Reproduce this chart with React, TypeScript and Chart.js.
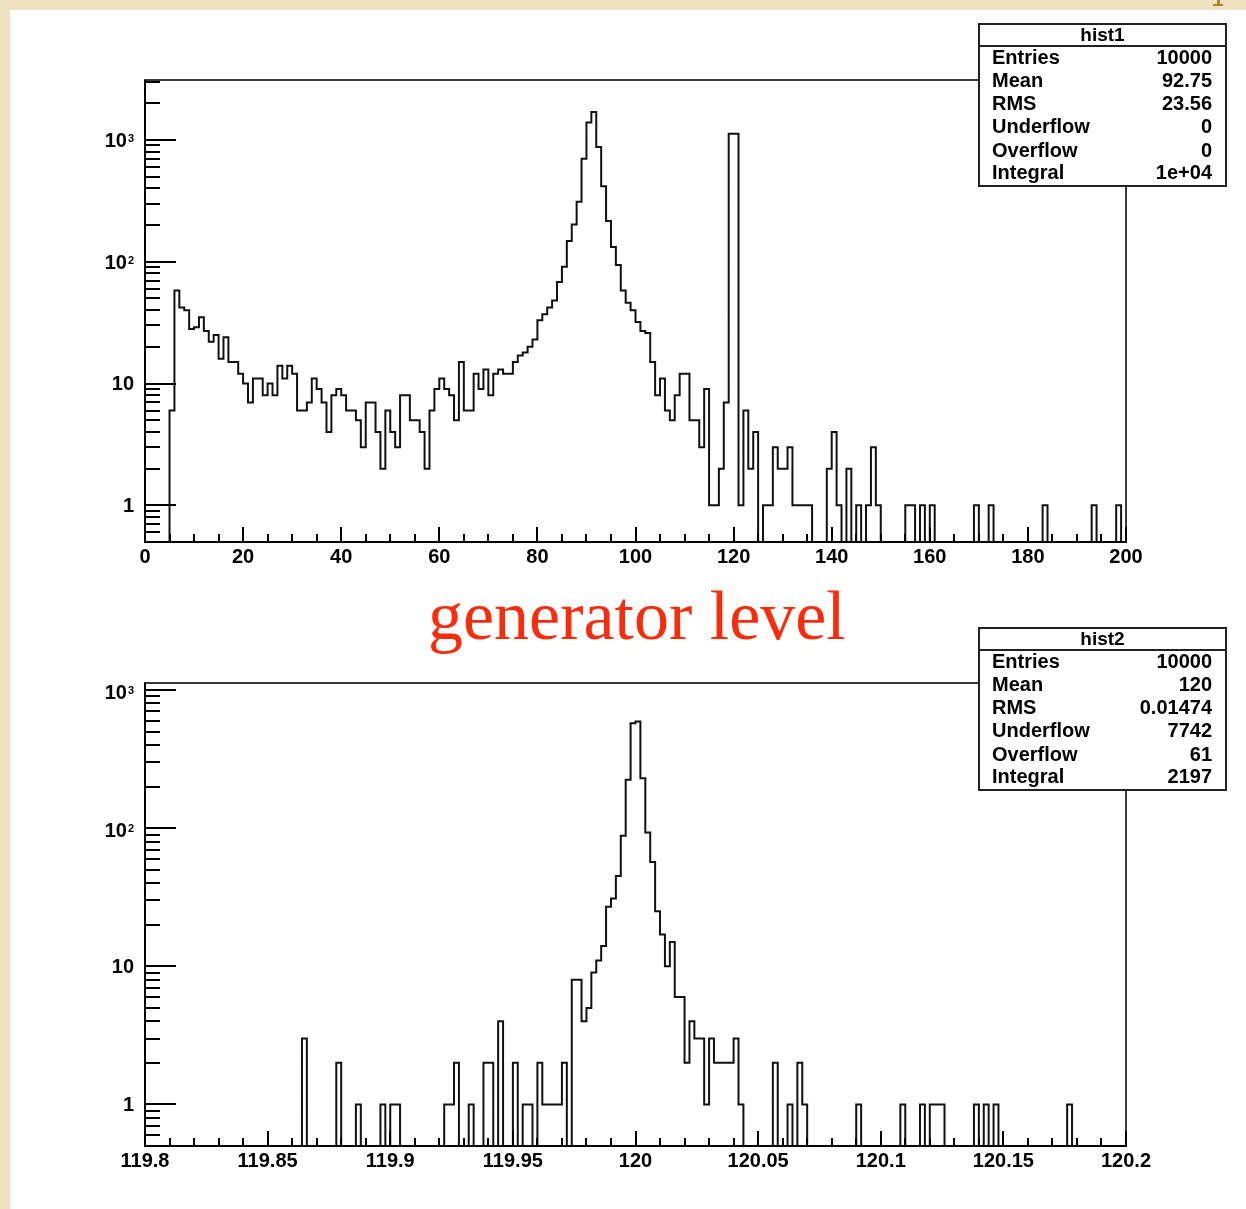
import React, { useEffect, useRef } from "react";
import { Chart, registerables } from "chart.js";

Chart.register(...registerables);

// ---------------- data ----------------
// hist1: 200 bins, 0 .. 200
const hist1Range = [0, 200];
const hist1Counts: number[] = [
  0, 0, 0, 0, 0, 6, 58, 42, 40, 28,
  29, 35, 27, 22, 25, 16, 24, 15, 15, 12,
  10, 7, 11, 11, 8, 10, 8, 14, 11, 14,
  12, 6, 6, 7, 11, 9, 7, 4, 8, 9,
  8, 6, 6, 5, 3, 7, 7, 4, 2, 6,
  4, 3, 8, 8, 5, 5, 4, 2, 6, 9,
  11, 9, 8, 5, 15, 6, 6, 12, 9, 13,
  8, 12, 13, 12, 12, 15, 17, 18, 20, 23,
  33, 37, 42, 48, 68, 91, 148, 202, 311, 700,
  1390, 1690, 873, 416, 216, 132, 94, 58, 46, 40,
  32, 27, 26, 15, 8, 11, 6, 5, 8, 12,
  12, 5, 5, 3, 9, 1, 1, 2, 7, 1120,
  1120, 1, 6, 2, 4, 0, 1, 1, 3, 2,
  2, 3, 1, 1, 1, 1, 0, 0, 0, 2,
  4, 1, 0, 2, 0, 1, 0, 1, 3, 1,
  0, 0, 0, 0, 0, 1, 1, 0, 1, 0,
  1, 0, 0, 0, 0, 0, 0, 0, 0, 1,
  0, 0, 1, 0, 0, 0, 0, 0, 0, 0,
  0, 0, 0, 1, 0, 0, 0, 0, 0, 0,
  0, 0, 0, 1, 0, 0, 0, 0, 1, 0,
];
const hist1XTickLabels = ["0", "20", "40", "60", "80", "100", "120", "140", "160", "180", "200"];
const hist1StatValues = ["10000", "92.75", "23.56", "0", "0", "1e+04"];

// hist2: 200 bins, 119.8 .. 120.2
const hist2Range = [119.8, 120.2];
const hist2Counts: number[] = [
  0, 0, 0, 0, 0, 0, 0, 0, 0, 0,
  0, 0, 0, 0, 0, 0, 0, 0, 0, 0,
  0, 0, 0, 0, 0, 0, 0, 0, 0, 0,
  0, 0, 3, 0, 0, 0, 0, 0, 0, 2,
  0, 0, 0, 1, 0, 0, 0, 0, 1, 0,
  1, 1, 0, 0, 0, 0, 0, 0, 0, 0,
  0, 1, 1, 2, 0, 0, 1, 0, 0, 2,
  2, 0, 4, 0, 0, 2, 0, 1, 1, 0,
  2, 1, 1, 1, 1, 2, 0, 8, 8, 4,
  5, 9, 11, 14, 27, 31, 45, 88, 224, 576,
  593, 230, 93, 57, 25, 17, 10, 15, 6, 6,
  2, 4, 3, 3, 1, 3, 2, 2, 2, 2,
  3, 1, 0, 0, 0, 0, 0, 0, 2, 0,
  0, 1, 0, 2, 1, 0, 0, 0, 0, 0,
  0, 0, 0, 0, 0, 1, 0, 0, 0, 0,
  0, 0, 0, 0, 1, 0, 0, 0, 1, 0,
  1, 1, 1, 0, 0, 0, 0, 0, 0, 1,
  0, 1, 0, 1, 0, 0, 0, 0, 0, 0,
  0, 0, 0, 0, 0, 0, 0, 0, 1, 0,
  0, 0, 0, 0, 0, 0, 0, 0, 0, 0,
];
const hist2XTickLabels = ["119.8", "119.85", "119.9", "119.95", "120", "120.05", "120.1", "120.15", "120.2"];
const hist2StatValues = ["10000", "120", "0.01474", "7742", "61", "2197"];

const statLabels = ["Entries", "Mean", "RMS", "Underflow", "Overflow", "Integral"];
const yTickValues = [1, 10, 100, 1000];
const yTickBases = ["1", "10", "10", "10"];
const yTickExps = ["", "", "2", "3"];

// ---------------- layout / style ----------------
const PAGE_W = 1246;
const PAGE_H = 1209;
const BEIGE = "#eee2c1";
const FONT = '"Liberation Sans", Arial, Helvetica, sans-serif';
const EMPTY_BIN = 0.01; // below the log-axis minimum: drawn down to the frame bottom

type PanelCfg = {
  name: string;
  counts: number[];
  range: number[];
  yMin: number;
  yMax: number;
  xLabels: string[];
  minorStep: number;
  majorEvery: number;
  stats: string[];
  canvasTop: number;
  canvasHeight: number;
  plotLeft: number;
  plotRight: number;
  plotTop: number;
  plotBottom: number;
  boxLeft: number;
  boxRight: number;
  boxTop: number;
  boxSep: number;
  boxBottom: number;
  rowY: number[];
  expShift: number;
};

const panel1: PanelCfg = {
  name: "hist1",
  counts: hist1Counts,
  range: hist1Range,
  yMin: 0.5,
  yMax: 3100,
  xLabels: hist1XTickLabels,
  minorStep: 5,
  majorEvery: 4,
  stats: hist1StatValues,
  canvasTop: 0,
  canvasHeight: 600,
  plotLeft: 145,
  plotRight: 1126,
  plotTop: 80,
  plotBottom: 542,
  boxLeft: 979,
  boxRight: 1226,
  boxTop: 24,
  boxSep: 46,
  boxBottom: 186,
  rowY: [58, 81, 104, 127, 151, 173],
  expShift: 2,
};

const panel2: PanelCfg = {
  name: "hist2",
  counts: hist2Counts,
  range: hist2Range,
  yMin: 0.5,
  yMax: 1125,
  xLabels: hist2XTickLabels,
  minorStep: 0.01,
  majorEvery: 5,
  stats: hist2StatValues,
  canvasTop: 600,
  canvasHeight: 609,
  plotLeft: 145,
  plotRight: 1126,
  plotTop: 683,
  plotBottom: 1146,
  boxLeft: 979,
  boxRight: 1226,
  boxTop: 628,
  boxSep: 650,
  boxBottom: 790,
  rowY: [662, 685, 708, 731, 755, 777],
  expShift: 3,
};

function makeRootPlugin(cfg: PanelCfg) {
  return {
    id: "rootFrame",
    afterDatasetsDraw(chart: any) {
      const { ctx, chartArea: a, scales } = chart;
      const xs = scales.x;
      const ys = scales.y;
      const off = cfg.canvasTop;
      const seg = (x1: number, y1: number, x2: number, y2: number) => {
        ctx.beginPath();
        ctx.moveTo(x1, y1);
        ctx.lineTo(x2, y2);
        ctx.stroke();
      };
      ctx.save();
      ctx.lineCap = "butt";

      // frame
      ctx.strokeStyle = "#3a3a3a";
      ctx.lineWidth = 2;
      ctx.strokeRect(a.left, a.top, a.right - a.left, a.bottom - a.top);
      // axes
      ctx.strokeStyle = "#000";
      ctx.lineWidth = 2;
      seg(a.left, a.top, a.left, a.bottom + 1);
      seg(a.left - 1, a.bottom, a.right + 1, a.bottom);

      // y ticks (log)
      ctx.lineWidth = 2;
      for (let d = -1; d <= 4; d++) {
        for (let k = 1; k <= 9; k++) {
          const v = k * Math.pow(10, d);
          if (v < ys.min || v > ys.max) continue;
          const y = Math.round(ys.getPixelForValue(v));
          const len = k === 1 ? 31 : 15;
          seg(a.left, y, a.left + len, y);
        }
      }
      // x ticks
      const lo = cfg.range[0];
      const hi = cfg.range[1];
      const nTicks = Math.round((hi - lo) / cfg.minorStep);
      for (let i = 0; i <= nTicks; i++) {
        const v = lo + i * cfg.minorStep;
        const x = Math.round(xs.getPixelForValue(v));
        const len = i % cfg.majorEvery === 0 ? 15 : 8;
        seg(x, a.bottom, x, a.bottom - len);
      }

      // x labels
      ctx.fillStyle = "#000";
      ctx.font = `bold 20px ${FONT}`;
      ctx.textAlign = "center";
      ctx.textBaseline = "top";
      cfg.xLabels.forEach((lab) => {
        const x = xs.getPixelForValue(parseFloat(lab));
        ctx.fillText(lab, x, a.bottom + 5);
      });

      // y labels
      const rightEdge = a.left - 11;
      yTickValues.forEach((v, i) => {
        const y = ys.getPixelForValue(v);
        const base = yTickBases[i];
        const exp = yTickExps[i];
        ctx.textAlign = "right";
        if (exp) {
          ctx.font = `bold 11px ${FONT}`;
          ctx.textBaseline = "top";
          const ew = ctx.measureText(exp).width;
          ctx.fillText(exp, rightEdge, y + cfg.expShift - 8);
          ctx.font = `bold 20px ${FONT}`;
          ctx.textBaseline = "middle";
          ctx.fillText(base, rightEdge - ew - 1, y + cfg.expShift);
        } else {
          ctx.font = `bold 20px ${FONT}`;
          ctx.textBaseline = "middle";
          ctx.fillText(base, rightEdge, y + 1);
        }
      });

      // stats box
      const L = cfg.boxLeft;
      const R = cfg.boxRight;
      const T = cfg.boxTop - off;
      const S = cfg.boxSep - off;
      const B = cfg.boxBottom - off;
      ctx.fillStyle = "#fff";
      ctx.fillRect(L, T, R - L, B - T);
      ctx.strokeStyle = "#222";
      ctx.lineWidth = 2;
      ctx.strokeRect(L, T, R - L, B - T);
      seg(L, S, R, S);
      ctx.fillStyle = "#000";
      ctx.font = `bold 19px ${FONT}`;
      ctx.textAlign = "center";
      ctx.textBaseline = "middle";
      ctx.fillText(cfg.name, (L + R) / 2, (T + S) / 2 + 1);
      ctx.font = `bold 20px ${FONT}`;
      statLabels.forEach((lab, i) => {
        const y = cfg.rowY[i] - off;
        ctx.textAlign = "left";
        ctx.fillText(lab, L + 13, y);
        ctx.textAlign = "right";
        ctx.fillText(cfg.stats[i], R - 14, y);
      });
      ctx.restore();
    },
  };
}

function HistPanel({ cfg }: { cfg: PanelCfg }) {
  const ref = useRef<HTMLCanvasElement | null>(null);
  useEffect(() => {
    const canvas = ref.current;
    if (!canvas) return;
    const n = cfg.counts.length;
    const lo = cfg.range[0];
    const hi = cfg.range[1];
    const w = (hi - lo) / n;
    const pts = cfg.counts.map((c, i) => ({ x: lo + i * w, y: c > 0 ? c : EMPTY_BIN }));
    pts.push({ x: hi, y: pts[n - 1].y });
    const chart = new Chart(canvas, {
      type: "line",
      data: {
        datasets: [
          {
            data: pts,
            stepped: true,
            borderColor: "#111",
            borderWidth: 2,
            pointRadius: 0,
            pointHoverRadius: 0,
            fill: false,
            tension: 0,
          } as any,
        ],
      },
      options: {
        animation: false,
        responsive: false,
        events: [],
        layout: {
          padding: {
            left: cfg.plotLeft,
            right: PAGE_W - cfg.plotRight,
            top: cfg.plotTop - cfg.canvasTop,
            bottom: cfg.canvasTop + cfg.canvasHeight - cfg.plotBottom,
          },
        },
        plugins: {
          legend: { display: false },
          tooltip: { enabled: false },
          title: { display: false },
        },
        scales: {
          x: { type: "linear", min: lo, max: hi, display: false },
          y: { type: "logarithmic", min: cfg.yMin, max: cfg.yMax, display: false },
        },
      },
      plugins: [makeRootPlugin(cfg)],
    });
    return () => chart.destroy();
  }, [cfg]);
  return (
    <canvas
      ref={ref}
      width={PAGE_W}
      height={cfg.canvasHeight}
      style={{ position: "absolute", left: 0, top: cfg.canvasTop, width: PAGE_W, height: cfg.canvasHeight }}
    />
  );
}

export default function App() {
  return (
    <div
      style={{
        position: "absolute",
        left: 0,
        top: 0,
        width: PAGE_W,
        height: PAGE_H,
        background: "#ffffff",
        overflow: "hidden",
      }}
    >
      <div style={{ position: "absolute", left: 0, top: 0, width: PAGE_W, height: 10, background: BEIGE }} />
      <div style={{ position: "absolute", left: 0, top: 0, width: 10, height: PAGE_H, background: BEIGE }} />
      <div style={{ position: "absolute", left: 1217, top: 0, width: 3, height: 5, background: "#b0852a" }} />
      <div style={{ position: "absolute", left: 1213, top: 4, width: 10, height: 2, background: "#b0852a" }} />
      <HistPanel cfg={panel1} />
      <HistPanel cfg={panel2} />
      <div
        style={{
          position: "absolute",
          left: 428,
          top: 581,
          font: '70px "Liberation Serif", "Times New Roman", serif',
          lineHeight: "70px",
          color: "#fb2c0c",
          whiteSpace: "nowrap",
          zIndex: 2,
        }}
      >
        generator level
      </div>
    </div>
  );
}
